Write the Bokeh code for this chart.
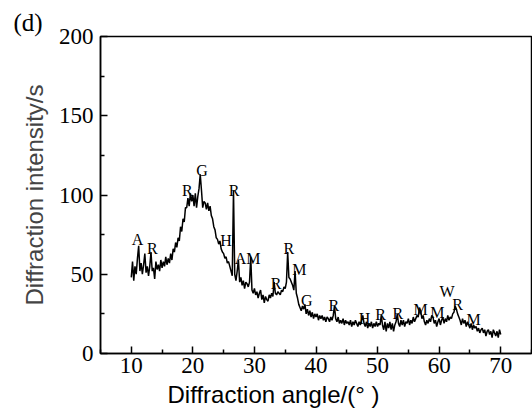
import numpy as np
from bokeh.plotting import figure
from bokeh.models import Range1d, Title, ColumnDataSource, FixedTicker
from bokeh.core.properties import value
from bokeh.embed import file_html
from bokeh.resources import INLINE

# 2-theta sampling grid (degrees) and intensities
angle = np.round(np.arange(10.0, 70.01, 0.2), 1)
intensity = (
    [48, 58, 46, 55, 50] + [60, 68, 52, 57, 50] + [56, 63, 51, 55, 49] +
    [55, 64, 52, 54, 47] + [58, 53, 56, 52, 59] + [54, 58, 55, 61, 56] +
    [60, 57, 63, 59, 66] + [64, 70, 67, 73, 71] + [80, 77, 85, 83, 92] +
    [92, 98, 93, 101, 96] + [100, 93, 101, 92, 99] + [104, 113, 103, 92, 96] +
    [95, 91, 95, 90, 93] + [87, 85, 80, 78, 73] + [72, 69, 71, 66, 64] +
    [63, 60, 61, 57, 58] + [55, 52, 49, 103, 50] + [46, 52, 59, 45, 48] +
    [43, 46, 41, 45, 44] + [42, 45, 61, 40, 38] + [41, 37, 39, 35, 38] +
    [40, 34, 37, 32, 36] + [34, 33, 37, 35, 38] + [36, 45, 38, 37, 39] +
    [38, 37, 40, 39, 42] + [41, 45, 64, 48, 47] + [45, 43, 40, 52, 38] +
    [35, 31, 29, 27, 30] + [28, 31, 25, 28, 24] + [27, 23, 26, 22, 25] +
    [23, 25, 21, 24, 22] + [24, 21, 23, 20, 23] + [22, 20, 23, 21, 24] +
    [30, 22, 20, 23, 19] + [21, 19, 22, 18, 21] + [19, 20, 18, 21, 17] +
    [20, 18, 21, 19, 17] + [20, 18, 21, 24, 19] + [17, 20, 16, 19, 17] +
    [20, 16, 19, 17, 20] + [17, 19, 18, 24, 18] + [15, 20, 14, 19, 16] +
    [20, 15, 19, 14, 18] + [20, 25, 19, 17, 21] + [18, 21, 17, 20, 19] +
    [22, 18, 21, 19, 23] + [20, 22, 24, 23, 29] + [27, 22, 24, 20, 18] +
    [21, 19, 22, 20, 24] + [23, 19, 21, 17, 20] + [22, 18, 21, 23, 19] +
    [22, 20, 24, 21, 23] + [22, 25, 26, 30, 28] + [25, 23, 21, 18, 22] +
    [19, 21, 17, 20, 18] + [16, 19, 15, 18, 16] + [17, 14, 16, 13, 15] +
    [16, 13, 15, 11, 14] + [15, 12, 14, 10, 15] + [13, 11, 14, 10, 15] +
    [12]
)
assert len(angle) == len(intensity)

# phase annotations
peak_x = [11.0, 13.4, 19.1, 21.5, 25.4, 26.7, 28.9, 33.5, 35.6, 37.3, 38.5,
          42.9, 47.9, 50.5, 53.3, 57.0, 59.7, 61.3, 63.0, 65.6]
peak_y = [72, 66, 103, 115.5, 71, 103, 60, 44, 66, 53, 33.5,
          30, 22, 24.6, 25, 27.8, 26, 39, 31, 21.5]
peak_text = ["A", "R", "R", "G", "H", "R", "AM", "R", "R", "M", "G",
             "R", "H", "R", "R", "M", "M", "W", "R", "M"]

x_ticks = [10, 20, 30, 40, 50, 60, 70]
y_ticks = [0, 50, 100, 150, 200]

p = figure(width=532, height=412, output_backend="svg", toolbar_location=None,
           x_range=Range1d(5, 75), y_range=Range1d(0, 200),
           min_border_left=100, min_border_right=1, min_border_top=36,
           min_border_bottom=59)
p.grid.visible = False
p.outline_line_color = "black"
p.outline_line_width = 1.5

p.line(angle, intensity, line_color="black", line_width=1.5)

src = ColumnDataSource(dict(x=peak_x, y=peak_y, t=peak_text))
p.text(x="x", y="y", text="t", source=src, text_align="center",
       text_baseline="alphabetic", text_font=value("Liberation Serif"),
       text_font_size="16px", text_color="black")

for ax, ticks in ((p.xaxis[0], x_ticks), (p.yaxis[0], y_ticks)):
    step = ticks[1] - ticks[0]
    ax.ticker = FixedTicker(ticks=ticks,
                            minor_ticks=[t + step / 2 for t in [ticks[0] - step] + ticks])
    ax.axis_line_color = "black"
    ax.axis_line_width = 1.5
    ax.major_tick_in = 7
    ax.major_tick_out = 0
    ax.minor_tick_in = 4
    ax.minor_tick_out = 0
    ax.major_tick_line_width = 1.5
    ax.minor_tick_line_width = 1.5
    ax.major_label_text_font = "Liberation Serif"
    ax.major_label_text_font_size = "23px"
    ax.major_label_text_color = "black"

p.xaxis.major_label_standoff = 4
p.yaxis.major_label_standoff = 7

p.yaxis.axis_label = "Diffraction intensity/s"
p.yaxis.axis_label_text_font = "Liberation Sans"
p.yaxis.axis_label_text_font_style = "normal"
p.yaxis.axis_label_text_font_size = "24px"
p.yaxis.axis_label_standoff = 8

p.add_layout(Title(text="Diffraction angle/(°  )", align="left", offset=67,
                   text_font="Liberation Sans", text_font_size="24px",
                   text_font_style="normal", text_color="black", standoff=6),
             "below")
p.add_layout(Title(text="(d)", align="left", offset=-87,
                   text_font="Liberation Serif", text_font_size="25px",
                   text_font_style="normal", text_color="black", standoff=2),
             "above")

open("out.html", "w").write(file_html(p, INLINE))
